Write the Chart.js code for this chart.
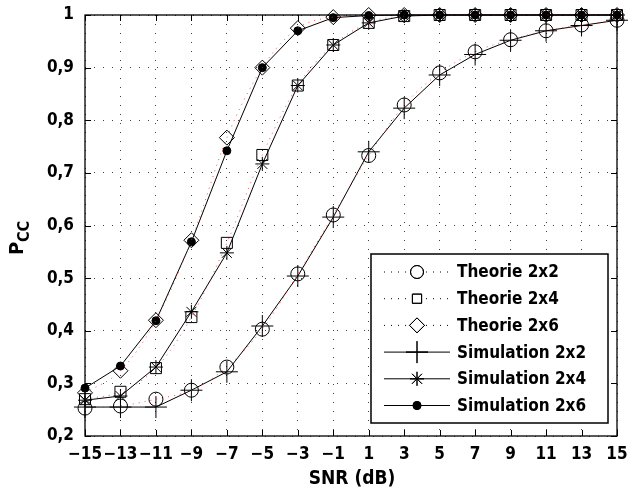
<!DOCTYPE html>
<html>
<head>
<meta charset="utf-8">
<script src="https://cdn.jsdelivr.net/npm/chart.js@4.4.1/dist/chart.umd.min.js"></script>
<style>
  body { margin: 0; background: #fff; }
  #wrap { width: 629px; height: 496px; }
</style>
</head>
<body>
<div id="wrap"><canvas id="chart" width="629" height="496"></canvas></div>
<script>
// data
const snr = [-15, -13, -11, -9, -7, -5, -3, -1, 1, 3, 5, 7, 9, 11, 13, 15];
const yTicks = [0.2, 0.3, 0.4, 0.5, 0.6, 0.7, 0.8, 0.9, 1];

const theorie2x2 = [0.253, 0.257, 0.27, 0.287, 0.331, 0.403, 0.508, 0.62, 0.733, 0.829, 0.89, 0.93, 0.953, 0.97, 0.981, 0.99];
const theorie2x4 = [0.27, 0.284, 0.329, 0.426, 0.567, 0.734, 0.866, 0.943, 0.985, 0.998, 1, 1, 1, 1, 1, 1];
const theorie2x6 = [0.282, 0.324, 0.42, 0.572, 0.767, 0.9, 0.975, 0.996, 1, 1, 1, 1, 1, 1, 1, 1];
const simul2x2 = [0.255, 0.255, 0.255, 0.287, 0.322, 0.409, 0.504, 0.616, 0.74, 0.823, 0.886, 0.925, 0.952, 0.97, 0.98, 0.99];
const simul2x4 = [0.268, 0.276, 0.331, 0.436, 0.548, 0.717, 0.866, 0.943, 0.985, 0.998, 1, 1, 1, 1, 1, 1];
const simul2x6 = [0.291, 0.333, 0.419, 0.569, 0.742, 0.9, 0.97, 0.995, 0.999, 1, 1, 1, 1, 1, 1, 1];

const FONT = "'DejaVu Sans Condensed', 'DejaVu Sans', sans-serif";

function pts(arr) {
  return snr.map((x, i) => ({ x: x, y: arr[i] }));
}

function theory(label, arr, style, r) {
  return {
    label: label,
    data: pts(arr),
    borderColor: 'rgba(230,40,40,0.8)',
    borderWidth: 1,
    borderDash: [1, 5],
    cubicInterpolationMode: 'monotone',
    pointStyle: style,
    pointRadius: r,
    pointBorderColor: '#000',
    pointBorderWidth: 1,
    pointBackgroundColor: 'rgba(0,0,0,0)',
    dashed: true,
    clip: false
  };
}

function simul(label, arr, style, r, filled) {
  return {
    label: label,
    data: pts(arr),
    borderColor: '#000',
    borderWidth: 1,
    tension: 0,
    pointStyle: style,
    pointRadius: r,
    pointBorderColor: '#000',
    pointBorderWidth: 1,
    pointBackgroundColor: filled ? '#000' : 'rgba(0,0,0,0)',
    dashed: false,
    clip: false
  };
}

function fmtY(v) {
  const r = Math.round(v * 10) / 10;
  return r === 1 ? '1' : r.toFixed(1).replace('.', ',');
}

// frame, inward ticks, legend box and axis titles
const decor = {
  id: 'decor',
  afterDraw(chart) {
    const ctx = chart.ctx;
    const a = chart.chartArea;
    const xs = chart.scales.x, ys = chart.scales.y;
    ctx.save();
    ctx.strokeStyle = '#000';
    ctx.lineWidth = 1.3;
    ctx.strokeRect(a.left, a.top, a.right - a.left, a.bottom - a.top);
    ctx.lineWidth = 1;
    ctx.beginPath();
    snr.forEach(v => {
      const px = Math.round(xs.getPixelForValue(v)) + 0.5;
      ctx.moveTo(px, a.bottom); ctx.lineTo(px, a.bottom - 6);
      ctx.moveTo(px, a.top); ctx.lineTo(px, a.top + 6);
    });
    yTicks.forEach(v => {
      const py = Math.round(ys.getPixelForValue(v)) + 0.5;
      ctx.moveTo(a.left, py); ctx.lineTo(a.left + 6, py);
      ctx.moveTo(a.right, py); ctx.lineTo(a.right - 6, py);
    });
    ctx.stroke();

    // legend
    const bx = 371, by = 254, bw = 237, bh = 169;
    ctx.fillStyle = '#fff';
    ctx.fillRect(bx, by, bw, bh);
    ctx.lineWidth = 1.5;
    ctx.strokeRect(bx, by, bw, bh);
    ctx.font = 'bold 17px ' + FONT;
    ctx.textBaseline = 'middle';
    ctx.textAlign = 'left';
    chart.data.datasets.forEach((ds, i) => {
      const y = by + 18 + i * 26.7;
      ctx.strokeStyle = '#000';
      ctx.lineWidth = 1;
      ctx.setLineDash(ds.dashed ? [1, 6] : []);
      ctx.beginPath();
      ctx.moveTo(384, y); ctx.lineTo(450, y);
      ctx.stroke();
      ctx.setLineDash([]);
      if (ds.dashed) {
        ctx.fillStyle = '#fff';
        ctx.fillRect(408, y - 9, 18, 18);
      }
      let r = ds.pointRadius;
      if (ds.dashed && ds.pointStyle === 'circle') r = 6.5;
      if (ds.pointStyle === 'rect') r = 6.5;
      Chart.helpers.drawPoint(ctx, {
        pointStyle: ds.pointStyle, radius: r, rotation: 0, borderWidth: 1
      }, 417, y);
      ctx.fillStyle = ds.pointBackgroundColor;
      ctx.strokeStyle = '#000';
      ctx.lineWidth = 1;
      ctx.fill();
      ctx.stroke();
      ctx.fillStyle = '#000';
      ctx.fillText(ds.label, 457, y + 1);
    });

    // axis titles
    ctx.fillStyle = '#000';
    ctx.textAlign = 'center';
    ctx.font = 'bold 19px ' + FONT;
    ctx.fillText('SNR (dB)', 352, 479);
    ctx.translate(22, 247);
    ctx.rotate(-Math.PI / 2);
    ctx.textAlign = 'left';
    ctx.font = 'bold 20px ' + FONT;
    ctx.fillText('P', -8, -4);
    ctx.font = 'bold 16px ' + FONT;
    ctx.fillText('CC', 5, 3);
    ctx.restore();
  }
};

new Chart(document.getElementById('chart'), {
  type: 'line',
  data: {
    datasets: [
      theory('Theorie 2x2', theorie2x2, 'circle', 7),
      theory('Theorie 2x4', theorie2x4, 'rect', 7.8),
      theory('Theorie 2x6', theorie2x6, 'rectRot', 7.5),
      simul('Simulation 2x2', simul2x2, 'cross', 11, false),
      simul('Simulation 2x4', simul2x4, 'star', 7, false),
      simul('Simulation 2x6', simul2x6, 'circle', 4, true)
    ]
  },
  options: {
    responsive: false,
    animation: false,
    events: [],
    layout: { padding: { top: 15, right: 8, left: 0, bottom: 0 } },
    plugins: { legend: { display: false }, tooltip: { enabled: false } },
    scales: {
      x: {
        type: 'linear',
        min: -15,
        max: 15,
        afterBuildTicks: s => { s.ticks = snr.map(v => ({ value: v })); },
        afterFit: s => {
          s.height = 60;
          s.paddingLeft = 0; s.paddingRight = 0;
        },
        grid: { color: 'rgba(0,0,0,0.75)', lineWidth: 1, drawTicks: false },
        border: { display: false, dash: [1, 8] },
        ticks: {
          color: '#000',
          padding: 8,
          maxRotation: 0,
          autoSkip: false,
          font: { family: FONT, size: 17, weight: 'bold' },
          callback: v => String(v).replace('-', '\u2212')
        }
      },
      y: {
        min: 0.2,
        max: 1,
        afterBuildTicks: s => { s.ticks = yTicks.map(v => ({ value: v })); },
        afterFit: s => {
          s.width = 85;
          s.paddingTop = 0; s.paddingBottom = 0;
        },
        grid: { color: 'rgba(0,0,0,0.75)', lineWidth: 1, drawTicks: false },
        border: { display: false, dash: [1, 8] },
        ticks: {
          color: '#000',
          padding: 11,
          autoSkip: false,
          font: { family: FONT, size: 17, weight: 'bold' },
          callback: v => fmtY(v)
        }
      }
    }
  },
  plugins: [decor]
});
</script>
</body>
</html>
